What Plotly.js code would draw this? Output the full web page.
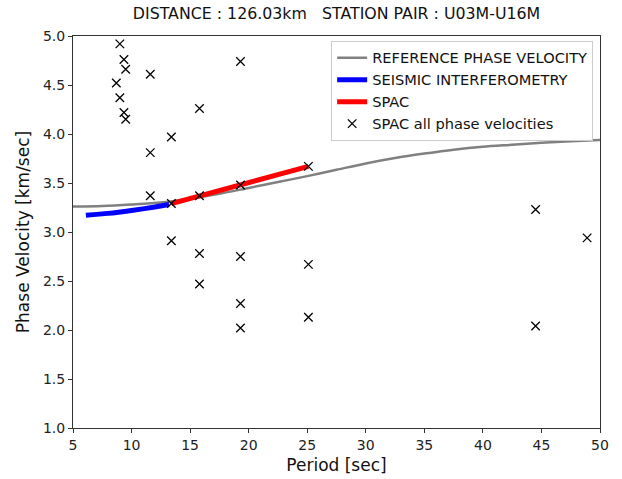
<!DOCTYPE html>
<html>
<head>
<meta charset="utf-8">
<script src="https://cdn.plot.ly/plotly-3.0.1.min.js"></script>
<style>html,body{margin:0;padding:0;background:#fff;}#chart{width:622px;height:479px;}</style>
</head>
<body>
<div id="chart"></div>
<script>
// Reference phase velocity curve
const refPeriod = [5, 7.5, 10, 12.5, 15, 17.5, 20, 22.5, 25, 27.5, 30, 32.5, 35, 37.5, 40, 42.5, 45, 47.5, 50];
const refVel    = [3.26, 3.265, 3.28, 3.30, 3.34, 3.39, 3.45, 3.51, 3.57, 3.635, 3.70, 3.755, 3.80, 3.84, 3.87, 3.89, 3.91, 3.925, 3.94];
// Seismic interferometry
const siPeriod = [6.1, 8, 10, 12, 13.2];
const siVel    = [3.17, 3.19, 3.22, 3.255, 3.28];
// SPAC
const spacPeriod = [13.4, 15.8, 19.3, 25.1];
const spacVel    = [3.29, 3.37, 3.48, 3.67];
// SPAC all phase velocities
const allPeriod = [9.0, 9.35, 9.5, 8.7, 9.0, 9.35, 9.5, 11.6, 11.6, 11.6, 13.4, 13.4, 13.4, 15.8, 15.8, 15.8, 15.8, 19.3, 19.3, 19.3, 19.3, 19.3, 25.1, 25.1, 25.1, 44.5, 44.5, 48.9];
const allVel    = [4.92, 4.76, 4.66, 4.52, 4.37, 4.22, 4.15, 4.61, 3.81, 3.37, 3.97, 3.29, 2.91, 4.26, 3.37, 2.78, 2.47, 4.74, 3.48, 2.75, 2.27, 2.02, 3.67, 2.67, 2.13, 3.23, 2.04, 2.94];
const xTicks = [5, 10, 15, 20, 25, 30, 35, 40, 45, 50];
const yTicks = [1.0, 1.5, 2.0, 2.5, 3.0, 3.5, 4.0, 4.5, 5.0];

const font = 'DejaVu Sans, sans-serif';
const traces = [
  {x: refPeriod, y: refVel, mode: 'lines', name: 'REFERENCE PHASE VELOCITY', line: {color: '#808080', width: 2.5, shape: 'spline', smoothing: 0.8}},
  {x: siPeriod, y: siVel, mode: 'lines', name: 'SEISMIC INTERFEROMETRY', line: {color: '#0000ff', width: 5, shape: 'spline', smoothing: 0.8}},
  {x: spacPeriod, y: spacVel, mode: 'lines', name: 'SPAC', line: {color: '#ff0000', width: 5}},
  {x: allPeriod, y: allVel, mode: 'markers', name: 'SPAC all phase velocities',
   marker: {symbol: 'x-thin-open', size: 8.5, color: '#000', line: {color: '#000', width: 1.3}}}
];
const axisCommon = {
  showgrid: false, zeroline: false, showline: true, mirror: true,
  linecolor: '#333', linewidth: 1, ticks: 'outside', ticklen: 4, tickcolor: '#333',
  tickfont: {family: font, size: 14, color: '#222'}
};
const layout = {
  width: 622, height: 479,
  margin: {l: 73, r: 22, t: 36, b: 51},
  paper_bgcolor: '#fff', plot_bgcolor: '#fff',
  title: {text: 'DISTANCE : 126.03km\u00a0\u00a0\u00a0STATION PAIR : U03M-U16M', x: 0.5, xref: 'paper', xanchor: 'center',
          y: 1, yref: 'container', yanchor: 'top', pad: {t: 8},
          font: {family: font, size: 15.8, color: '#111'}},
  xaxis: Object.assign({}, axisCommon, {
    range: [5, 50], tickvals: xTicks, ticktext: xTicks.map(String),
    title: {text: 'Period [sec]', font: {family: font, size: 17, color: '#111'}, standoff: 7}
  }),
  yaxis: Object.assign({}, axisCommon, {
    range: [1, 5], tickvals: yTicks, ticktext: yTicks.map(v => v.toFixed(1)),
    title: {text: 'Phase Velocity [km/sec]', font: {family: font, size: 17, color: '#111'}, standoff: 8}
  }),
  showlegend: true,
  legend: {x: 0.987, xanchor: 'right', y: 0.988, yanchor: 'top', bgcolor: 'rgba(255,255,255,0.9)',
           bordercolor: '#ccc', borderwidth: 1, font: {family: font, size: 14.6, color: '#111'},
           tracegroupgap: 0, itemwidth: 30}
};
Plotly.newPlot('chart', traces, layout, {displayModeBar: false, staticPlot: true});
</script>
</body>
</html>
